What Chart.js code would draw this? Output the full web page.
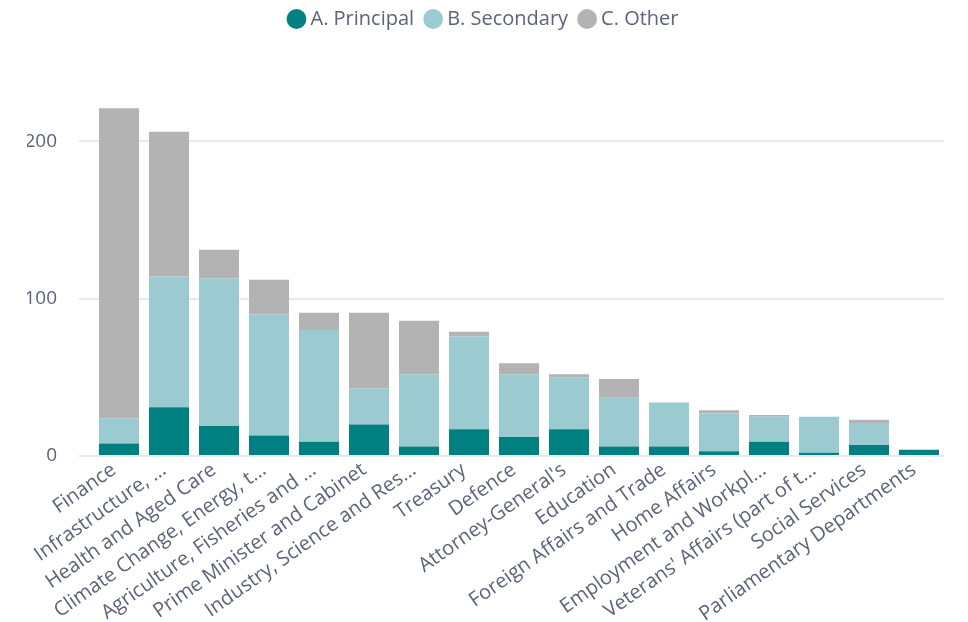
<!DOCTYPE html>
<html>
<head>
<meta charset="utf-8">
<script src="https://cdn.jsdelivr.net/npm/chart.js@4"></script>
<style>
  html, body { margin: 0; padding: 0; background: #fff; }
  #wrap { width: 968px; height: 622px; }
</style>
</head>
<body>
<div id="wrap"><canvas id="myChart" width="968" height="622"></canvas></div>
<script>
const departments = [
  "Finance",
  "Infrastructure, …",
  "Health and Aged Care",
  "Climate Change, Energy, t…",
  "Agriculture, Fisheries and …",
  "Prime Minister and Cabinet",
  "Industry, Science and Res…",
  "Treasury",
  "Defence",
  "Attorney-General's",
  "Education",
  "Foreign Affairs and Trade",
  "Home Affairs",
  "Employment and Workpl…",
  "Veterans' Affairs (part of t…",
  "Social Services",
  "Parliamentary Departments"
];
const principal = [8, 31, 19, 13, 9, 20, 6, 17, 12, 17, 6, 6, 3, 9, 2, 7, 4];
const secondary = [16, 83, 94, 77, 71, 23, 46, 59, 40, 33, 31, 28, 24, 16, 23, 14, 0];
const other = [197, 92, 18, 22, 11, 48, 34, 3, 7, 2, 12, 0, 2, 1, 0, 2, 0];
const yTicks = [0, 100, 200];

const fontFamily = "'Segoe UI', 'Open Sans', 'Noto Sans', sans-serif";
const textColor = "#5b6478";

Chart.defaults.font.family = fontFamily;
Chart.defaults.color = textColor;

const ctx = document.getElementById("myChart");
const myChart = new Chart(ctx, {
  type: "bar",
  data: {
    labels: departments,
    datasets: [
      { label: "A. Principal", data: principal, backgroundColor: "#008080" },
      { label: "B. Secondary", data: secondary, backgroundColor: "#9bcbd0" },
      { label: "C. Other", data: other, backgroundColor: "#b3b3b3" },
    ],
  },
  options: {
    responsive: false,
    animation: false,
    barPercentage: 0.8,
    categoryPercentage: 1.0,
    layout: { padding: { left: 27, right: 24, top: -6, bottom: 0 } },
    plugins: {
      legend: {
        position: "top",
        labels: {
          usePointStyle: true,
          pointStyle: "circle",
          boxWidth: 8,
          boxHeight: 14,
          padding: 15,
          font: { size: 20 },
          color: textColor,
        },
      },
      tooltip: { enabled: false },
    },
    scales: {
      x: {
        stacked: true,
        grid: { display: false, drawTicks: false },
        border: { display: false },
        ticks: {
          autoSkip: false,
          minRotation: 35,
          maxRotation: 35,
          padding: 2,
          labelOffset: -5,
          font: { size: 20 },
          color: textColor,
        },
        afterFit: (s) => { s.height = 166; },
      },
      y: {
        stacked: true,
        min: 0,
        max: 265,
        afterBuildTicks: (s) => { s.ticks = yTicks.map((v) => ({ value: v })); },
        grid: { color: "#e8e8e8", lineWidth: 2, drawTicks: true, tickLength: 15 },
        border: { display: false },
        ticks: {
          padding: 22,
          font: { size: 19 },
          color: textColor,
        },
        afterFit: (s) => { s.width = 67; },
      },
    },
  },
});
</script>
</body>
</html>
